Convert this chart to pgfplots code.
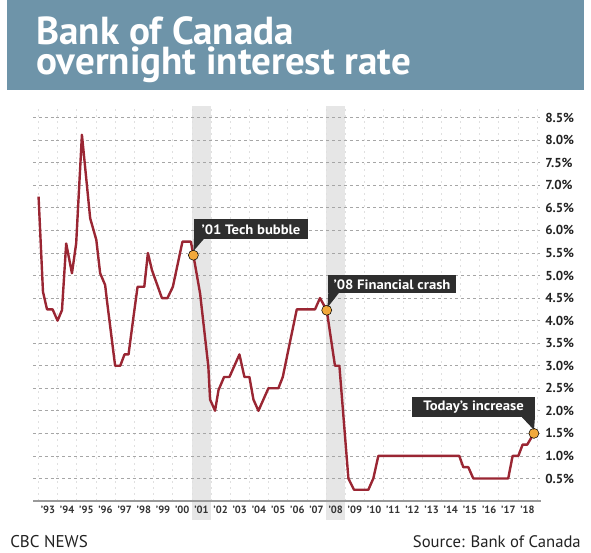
\documentclass[border=0pt]{standalone}
\usepackage{pgfplots}
\pgfplotsset{compat=1.18}
\usepackage{pgfplotstable}
\usepackage{fontspec}
\setmainfont{PT Sans}
\newfontfamily\boxfont[FakeStretch=1.08]{PT Sans}
\definecolor{banner}{HTML}{6E94A9}
\definecolor{linec}{HTML}{9A2633}
\definecolor{dotc}{HTML}{F2A93B}
\definecolor{boxc}{HTML}{2E2E2E}
\definecolor{gridc}{HTML}{A6A6A6}
\definecolor{vgridc}{HTML}{E0E0E0}
\definecolor{bandc}{HTML}{E6E6E6}
\definecolor{axisc}{HTML}{999999}
\definecolor{tickc}{HTML}{333333}
\definecolor{footc}{HTML}{222222}

\pgfplotstableread{
t v
1993.01 6.75
1993.24 4.64
1993.45 4.25
1993.74 4.25
1994.00 4.00
1994.23 4.23
1994.45 5.71
1994.75 5.05
1994.97 5.71
1995.27 8.12
1995.70 6.27
1996.02 5.79
1996.22 5.05
1996.48 4.79
1996.57 4.46
1997.00 3.00
1997.27 3.00
1997.49 3.25
1997.70 3.25
1997.96 4.09
1998.17 4.75
1998.52 4.75
1998.71 5.50
1998.92 5.12
1999.44 4.50
1999.73 4.50
2000.01 4.75
2000.51 5.75
2000.95 5.75
2001.08 5.45
2001.43 4.60
2001.86 2.98
2001.95 2.25
2002.21 2.00
2002.39 2.46
2002.68 2.75
2002.96 2.75
2003.48 3.25
2003.74 2.75
2004.00 2.75
2004.21 2.25
2004.47 2.00
2004.73 2.25
2004.99 2.50
2005.51 2.50
2005.74 2.75
2006.03 3.35
2006.47 4.25
2007.42 4.25
2007.68 4.50
2008.03 4.23
2008.46 3.00
2008.69 3.00
2009.16 0.50
2009.45 0.25
2010.20 0.25
2010.46 0.50
2010.72 1.00
2014.94 1.00
2015.15 0.75
2015.41 0.75
2015.67 0.50
2017.49 0.50
2017.72 1.00
2018.02 1.00
2018.24 1.25
2018.48 1.25
2018.83 1.50
}\ratedata

\begin{document}
\begin{tikzpicture}[x=0.75pt,y=0.75pt]
\path (0,0) rectangle (591,552);
\fill[banner] (7,462) rectangle (584,552);
\node[anchor=base west, inner sep=0pt, text=white, text depth=0pt, font=\bfseries\fontsize{29.3}{30}\selectfont] at (36,507.5) {Bank of Canada};
\node[anchor=base west, inner sep=0pt, text=white, text height=10pt, font=\bfseries\fontsize{29.3}{30}\selectfont] at (36,477) {overnight interest rate};

\begin{axis}[
  at={(24.75pt,38.25pt)}, anchor=south west,
  scale only axis, width=381pt, height=295.95pt,
  xmin=1992.72, xmax=2019.2, ymin=0, ymax=8.75,
  clip=false, set layers,
  axis x line*=bottom, axis y line*=right,
  x axis line style={draw=axisc, line width=0.8pt, -},
  y axis line style={draw=none},
  xtick={1993.5,1994.5,...,2018.5},
  xticklabels={’93,’94,’95,’96,’97,’98,’99,’00,’01,’02,’03,’04,’05,’06,’07,’08,’09,’10,’11,’12,’13,’14,’15,’16,’17,’18},
  minor xtick={1993,1994,...,2019},
  ytick={0.5,1,...,8.5},
  yticklabel={\pgfmathprintnumber[fixed,fixed zerofill,precision=1]{\tick}\%},
  /pgf/number format/assume math mode=true,
  major tick length=0pt, minor tick length=0pt,
  ymajorgrids=true, xmajorgrids=false, xminorgrids=true,
  major grid style={draw=gridc, line width=0.6pt, dash pattern=on 2.2pt off 2.2pt},
  minor grid style={draw=vgridc, line width=0.5pt, dash pattern=on 1.5pt off 3pt},
  xticklabel style={font=\bfseries\fontsize{7.9}{9}\selectfont, text=tickc, inner sep=0pt, anchor=north, yshift=-3.5pt},
  yticklabel style={font=\bfseries\fontsize{9.75}{11}\selectfont, text=footc, inner sep=0pt, anchor=west, xshift=3pt},
]
\begin{pgfonlayer}{axis background}
\fill[bandc] (axis cs:2001,-0.42) rectangle (axis cs:2002,8.75);
\fill[bandc] (axis cs:2008,-0.42) rectangle (axis cs:2009,8.75);
\end{pgfonlayer}
\addplot[only marks, mark=*, mark size=3.75pt, mark options={draw=none, fill=dotc}] coordinates {(2001.08,5.45) (2008.03,4.23) (2018.83,1.5)};
\addplot[no markers, draw=linec, line width=1.8pt, line join=round] table[x=t, y=v] {\ratedata};
\end{axis}

% annotation boxes
\fill[boxc] (194,332.7) rectangle (308,312.7);
\fill[boxc] (194,313.2) -- (204,313.2) -- (193.5,301) -- cycle;
\node[text=white, inner sep=0pt, font=\boxfont\bfseries\fontsize{10.2}{11}\selectfont] at (251,322.5) {’01 Tech bubble};

\fill[boxc] (328.3,277) rectangle (456,258.7);
\fill[boxc] (328.3,259.2) -- (339,259.2) -- (327.5,244.5) -- cycle;
\node[text=white, inner sep=0pt, font=\boxfont\bfseries\fontsize{10.2}{11}\selectfont] at (392,267.6) {’08 Financial crash};

\fill[boxc] (412.3,154.7) rectangle (535,135.3);
\fill[boxc] (521,135.8) -- (535,135.8) -- (534,122) -- cycle;
\node[text=white, inner sep=0pt, font=\boxfont\bfseries\fontsize{10.2}{11}\selectfont] at (473.6,144.8) {Today’s increase};

% footer
\node[anchor=base west, inner sep=0pt, font=\fontsize{12.75}{14}\selectfont, text=footc] at (10,5) {CBC NEWS};
\node[anchor=base east, inner sep=0pt, font=\fontsize{12.5}{14}\selectfont, text=footc] at (581,5) {Source: Bank of Canada};
\end{tikzpicture}
\end{document}
